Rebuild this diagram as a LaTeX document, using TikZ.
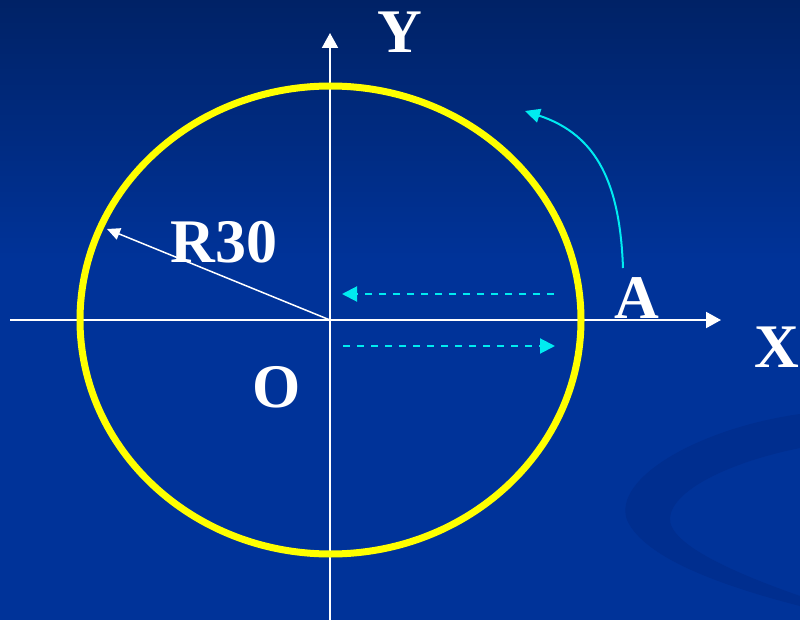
\documentclass[tikz,border=0pt]{standalone}
\usepackage{fontspec}
\setmainfont{Liberation Serif}
\usetikzlibrary{arrows.meta}
\definecolor{bgtop}{RGB}{0,34,102}
\definecolor{bgmid}{RGB}{0,51,153}
\definecolor{swoosh}{RGB}{0,46,143}
\definecolor{cyanline}{RGB}{0,235,240}
\definecolor{ringyellow}{RGB}{255,255,0}
\tikzset{
  axis/.style={draw=white, line width=2pt, -{Triangle[length=15pt,width=16pt]}},
  radius line/.style={draw=white, line width=1.5pt, -{Triangle[length=13pt,width=12pt]}},
  dashedarrow/.style={draw=cyanline, line width=2pt, dash pattern=on 7pt off 7pt, -{Triangle[length=15pt,width=15pt]}},
  curvearrow/.style={draw=cyanline, line width=2pt, -{Triangle[length=15pt,width=14pt]}},
  label/.style={text=white, font=\fontsize{62}{62}\selectfont\bfseries, inner sep=0pt, anchor=base},
}
\begin{document}
\begin{tikzpicture}[x=1pt,y=-1pt]
\useasboundingbox (0,0) rectangle (800,620);
% background
\fill[bgmid] (0,0) rectangle (800,620);
\shade[top color=bgtop, bottom color=bgmid] (0,0) rectangle (800,260);
% swoosh
\fill[swoosh] (800,414) .. controls (700,428) and (612,478) .. (627,520)
  .. controls (645,560) and (730,588) .. (800,606)
  -- (800,596) .. controls (740,575) and (668,545) .. (670,518)
  .. controls (672,490) and (730,462) .. (800,448) -- cycle;
% axes
\coordinate (o) at (330,320);
\coordinate (xs) at (10,320);
\coordinate (xe) at (721,320);
\coordinate (ys) at (330,620);
\coordinate (ye) at (330,33);
\draw[axis] (xs) -- (xe);
\draw[axis] (ys) -- (ye);
% ring
\draw[ringyellow, line width=7pt] (330.5,320) ellipse [x radius=250.5, y radius=234];
% radius
\coordinate (rp) at (107,229);
\draw[radius line] (o) -- (rp);
% dashed arrows
\coordinate (d1s) at (554,294);
\coordinate (d1e) at (342,294);
\coordinate (d2s) at (343,346);
\coordinate (d2e) at (555,346);
\draw[dashedarrow] (d1s) -- (d1e);
\draw[dashedarrow] (d2s) -- (d2e);
% curved arrow
\coordinate (cs) at (623,268);
\coordinate (ce) at (525,111);
\draw[curvearrow] (cs) .. controls (620,185) and (598,135) .. (ce);
% labels
\node[label] (ylab) at (400,53) {Y};
\node[label] (xlab) at (777,367) {X};
\node[label] (alab) at (637,318) {A};
\node[label] (olab) at (277,407) {O};
\node[label] (rlab) at (224,263) {R30};
\end{tikzpicture}
\end{document}
